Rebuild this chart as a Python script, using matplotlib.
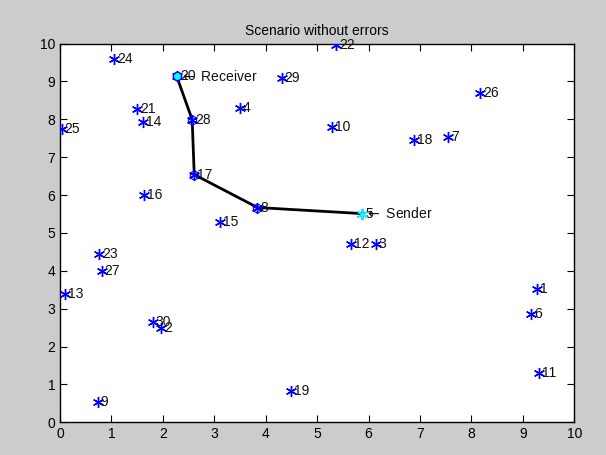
import matplotlib
matplotlib.use("Agg")
import matplotlib.pyplot as plt
import numpy as np

plt.rcParams['font.family'] = ['Liberation Sans', 'DejaVu Sans']

node_ids = list(range(1, 31))
node_x = [9.28, 1.96, 6.14, 3.50, 5.87, 9.16, 7.55, 3.84, 0.73, 5.28,
          9.31, 5.66, 0.10, 1.61, 3.11, 1.63, 2.61, 6.89, 4.49, 2.27,
          1.50, 5.36, 0.76, 1.05, 0.03, 8.17, 0.81, 2.57, 4.31, 1.80]
node_y = [3.51, 2.49, 4.72, 8.30, 5.51, 2.86, 7.53, 5.67, 0.54, 7.79,
          1.31, 4.70, 3.38, 7.94, 5.29, 6.01, 6.54, 7.46, 0.83, 9.13,
          8.26, 9.95, 4.44, 9.58, 7.75, 8.70, 3.99, 7.99, 9.10, 2.65]
route = [20, 28, 17, 8, 5]
sender = 5
receiver = 20
title = "Scenario without errors"
ticks = list(range(0, 11))

ast = (6, 2, 0)  # MATLAB-like asterisk

fig = plt.figure(figsize=(6.06, 4.55), dpi=100, facecolor='#cccccc')
ax = fig.add_axes([60/606, 1-422.3/455, (574.3-60)/606, (422.3-43.5)/455])
ax.set_facecolor('white')

# route
rx = [node_x[i-1] for i in route]
ry = [node_y[i-1] for i in route]
ax.plot(rx, ry, color='black', lw=2, zorder=2)
ax.plot(rx[1:-1], ry[1:-1], 'o', mfc='none', mec='blue', ms=6, mew=0.8, zorder=3)

# nodes
ax.plot(node_x, node_y, marker=ast, color='blue', ms=8, mew=1.0, zorder=4, linestyle='none')
for i, x, y in zip(node_ids, node_x, node_y):
    ax.text(x + 0.06, y, str(i), fontsize=10, va='center', ha='left', color='#111111', zorder=5)

# sender / receiver
ax.plot(node_x[receiver-1], node_y[receiver-1], 'o', mfc='cyan', mec='blue', ms=6, zorder=6)
ax.plot(node_x[sender-1], node_y[sender-1], marker=ast, color='cyan', ms=8, mew=1.0, zorder=6)
ax.text(node_x[sender-1] + 0.06, node_y[sender-1], r'$\leftarrow$ Sender', fontsize=10,
        va='center', ha='left', color='#111111', zorder=7)
ax.text(node_x[receiver-1] + 0.06, node_y[receiver-1], r'$\leftarrow$ Receiver', fontsize=10,
        va='center', ha='left', color='#111111', zorder=7)

ax.set_xlim(0, 10)
ax.set_ylim(0, 10)
ax.set_xticks(ticks)
ax.set_yticks(ticks)
ax.tick_params(direction='in', top=True, right=True, labelsize=10, length=5)
for s in ax.spines.values():
    s.set_linewidth(1)
ax.set_title(title, fontsize=10)

fig.savefig('out.png', dpi=100, facecolor=fig.get_facecolor())
